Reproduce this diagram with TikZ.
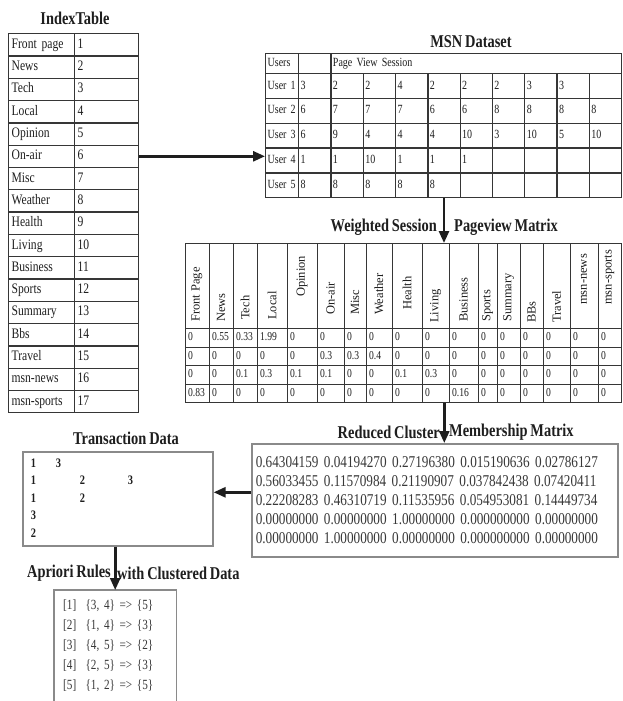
\documentclass[tikz,border=0pt]{standalone}
\usepackage{fontspec}
\setmainfont{Liberation Serif}[FakeStretch=0.8,WordSpace=0.8]
\newfontfamily\upright{Liberation Serif}
\usepackage{xcolor}
\usepackage{tikz}
\usetikzlibrary{positioning,arrows.meta,calc}
\definecolor{ink}{HTML}{1E1E1E}
\definecolor{grid}{HTML}{363636}
\definecolor{frame}{HTML}{8A8A8A}
\definecolor{soft}{HTML}{383838}

\begin{document}
\begin{tikzpicture}[x=1pt,y=-1pt,
  ttl/.style={font=\bfseries\fontsize{18}{20}\selectfont,text=ink,inner sep=0pt},
  cell/.style={draw=grid,line width=1.3pt,anchor=north west,inner xsep=3pt,
               inner ysep=0pt,align=left,text=ink},
  idx/.style={minimum height=22.3pt,text height=10pt,text depth=3pt,
              font=\fontsize{14.5}{16}\selectfont},
  msn/.style={inner xsep=2pt,text height=9pt,text depth=3pt,font=\fontsize{12.5}{14}\selectfont},
  wcell/.style={minimum height=18.5pt,inner xsep=2.5pt,text height=8.5pt,
                text depth=2.5pt,font=\fontsize{12}{13}\selectfont},
  wlab/.style={rotate=90,anchor=west,inner sep=0pt,text=ink,
               font=\upright\fontsize{12.5}{14}\selectfont},
  box/.style={draw=frame,line width=1.6pt,anchor=north west,inner ysep=0pt,
              align=left,text=soft},
  arr/.style={-{Triangle[length=12pt,width=10pt]},ink,line width=2.6pt}]
\fill[white] (0,0) rectangle (622,701);
\useasboundingbox (0,0) rectangle (622,701);

% index table
\node[ttl] (idxt) at (75,18) {IndexTable};
\foreach \lab [count=\i] in {Front page,News,Tech,Local,Opinion,On-air,Misc,
    Weather,Health,Living,Business,Sports,Summary,Bbs,Travel,msn-news,msn-sports}{
  \node[cell,idx,text width=60pt] (il\i) at (8,{33+(\i-1)*22.3}) {\lab};
  \node[cell,idx,text width=58pt] (in\i) at (74,{33+(\i-1)*22.3}) {\i};
}

% msn dataset
\node[ttl] (msnt) at (471,42) {MSN Dataset};
\node[cell,msn,minimum height=20pt,text width=29pt] (mh0) at (265,53) {Users};
\node[cell,msn,minimum height=20pt,text width=28.3pt] (mh1) at (298,53) {};
\node[cell,msn,minimum height=20pt,text width=286.7pt] (mh2) at (330.3,53) {Page View Session};
\foreach \vals [count=\r] in {{3,2,2,4,2,2,2,3,3,{}},{6,7,7,7,6,6,8,8,8,8},
    {6,9,4,4,4,10,3,10,5,10},{1,1,10,1,1,1,{},{},{},{}},{8,8,8,8,8,{},{},{},{},{}}}{
  \node[cell,msn,minimum height=24.8pt,text width=29pt] (u\r) at (265,{73+(\r-1)*24.8}) {User~\r};
  \foreach \v [count=\c] in \vals
    \node[cell,msn,minimum height=24.8pt,text width=28.3pt] (m\r-\c)
      at ({298+(\c-1)*32.3},{73+(\r-1)*24.8}) {\v};
}

% weighted session pageview matrix
\node[ttl,anchor=east] (wta) at (437,227) {Weighted Session};
\node[ttl,anchor=west] (wtb) at (454,227) {Pageview Matrix};
\def\wx{{185,209,233,257,287,317,344,366,392,422,449,478,497,520,543,570,598,621}}
\def\wb{{322,322,320,320,297,315,315,315,310,323,322,322,322,323,323,305,305}}
\foreach \nm [count=\c] in {Front Page,News,Tech,Local,Opinion,On-air,Misc,Weather,
    Health,Living,Business,Sports,Summary,BBs,Travel,msn-news,msn-sports}{
  \pgfmathsetmacro\xa{\wx[\c-1]}
  \pgfmathsetmacro\xb{\wx[\c]}
  \pgfmathsetmacro\yb{\wb[\c-1]}
  \pgfmathsetmacro\cw{\xb-\xa}
  \node[cell,minimum height=85pt,minimum width=\cw pt,inner xsep=0pt] (wh\c) at (\xa,243) {};
  \node[wlab] (wt\c) at ({(\xa+\xb)/2},\yb) {\nm};
}
\foreach \vals [count=\r] in {{0,0.55,0.33,1.99,0,0,0,0,0,0,0,0,0,0,0,0,0},
    {0,0,0,0,0,0.3,0.3,0.4,0,0,0,0,0,0,0,0,0},
    {0,0,0.1,0.3,0.1,0.1,0,0,0.1,0.3,0,0,0,0,0,0,0},
    {0.83,0,0,0,0,0,0,0,0,0,0.16,0,0,0,0,0,0}}{
  \foreach \v [count=\c] in \vals {
    \pgfmathsetmacro\xa{\wx[\c-1]}
    \pgfmathsetmacro\tw{\wx[\c]-\xa-5}
    \node[cell,wcell,text width=\tw pt] (w\r-\c) at (\xa,{328+(\r-1)*18.5}) {\v};
  }
}

% reduced cluster membership matrix
\node[ttl,anchor=east] (rta) at (440,432) {Reduced Cluster};
\node[ttl,anchor=west] (rtb) at (449,432) {Membership Matrix};
\node[box,minimum width=366pt,minimum height=113pt,text width=358pt,inner xsep=4pt,
      font=\fontsize{16.5}{19}\selectfont] (red) at (251,443)
  {0.64304159 0.04194270 0.27196380 0.015190636 0.02786127\\
   0.56033455 0.11570984 0.21190907 0.037842438 0.07420411\\
   0.22208283 0.46310719 0.11535956 0.054953081 0.14449734\\
   0.00000000 0.00000000 1.00000000 0.000000000 0.00000000\\
   0.00000000 1.00000000 0.00000000 0.000000000 0.00000000};

% transaction data
\node[ttl] (trt) at (126,438) {Transaction Data};
\node[box,minimum width=190pt,minimum height=94pt,text width=174pt,inner xsep=8pt,
      text=ink,font=\bfseries\fontsize{13}{17.5}\selectfont] (trans) at (22,451)
  {\setlength\tabcolsep{0pt}%
   \begin{tabular}{p{25pt}p{24pt}p{48pt}l}
   1 & 3 \\ 1 & & 2 & 3 \\ 1 & & 2 \\ 3 \\ 2
   \end{tabular}};

% apriori rules
\node[ttl,anchor=east] (apa) at (111,573) {Apriori Rules};
\node[ttl,anchor=west] (apb) at (117,573) {with Clustered Data};
\node[anchor=north west,minimum width=118pt,minimum height=111pt,text width=104pt,
      inner xsep=9pt,inner ysep=0pt,align=left,text=soft,
      font=\fontsize{14}{20}\selectfont] (apr) at (54,590)
  {{[1]}~~\{3, 4\} => \{5\}\\
   {[2]}~~\{1, 4\} => \{3\}\\
   {[3]}~~\{4, 5\} => \{2\}\\
   {[4]}~~\{2, 5\} => \{3\}\\
   {[5]}~~\{1, 2\} => \{5\}};
\draw[frame,line width=1.6pt] (apr.south west) |- (apr.north east) -- (apr.south east);

% flow
\draw[arr] (in6.east) -- (in6.east -| u4.west);
\draw[arr] (m5-5.south) -- (m5-5.south |- wh10.north);
\draw[arr] ([xshift=-6pt]w4-10.south east) -- ([xshift=-6pt]w4-10.south east |- red.north);
\draw[arr] ([yshift=8pt]red.west) -- ([yshift=8pt]red.west -| trans.east);
\draw[arr] (apr.north |- trans.south) -- (apr.north);
\end{tikzpicture}
\end{document}
